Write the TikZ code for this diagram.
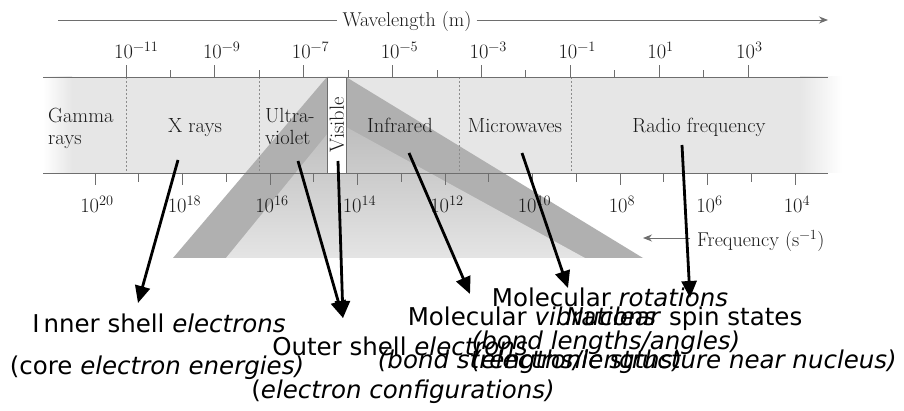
\documentclass[tikz,border=0pt]{standalone}
\usepackage{fontspec}
\newfontfamily\lblfont{DejaVu Sans}
\usetikzlibrary{arrows.meta}
\definecolor{bandgray}{HTML}{E6E6E6}
\definecolor{wedgedark}{HTML}{B0B0B0}
\definecolor{wedgelight}{HTML}{D9D9D9}
\definecolor{axisgray}{HTML}{6E6E6E}
\definecolor{inkgray}{HTML}{1A1A1A}
\begin{document}
\begin{tikzpicture}[x=1pt,y=-1pt,
  axisline/.style={draw=axisgray,line width=0.9pt},
  tickmark/.style={draw=axisgray,line width=0.9pt},
  divider/.style={draw=black!45,line width=0.7pt,dash pattern=on 2pt off 2pt},
  bandtext/.style={font=\fontsize{20.5}{16}\selectfont,text=inkgray,inner sep=0pt},
  ticklabel/.style={font=\fontsize{20.5}{24}\selectfont,text=inkgray,inner sep=0pt},
  axislabel/.style={font=\fontsize{20}{24}\selectfont,text=inkgray,inner sep=0pt},
  callout/.style={draw=black,line width=2.8pt,-{Triangle[length=17pt,width=15pt]}},
  sanslabel/.style={font=\lblfont\fontsize{24.5}{28}\selectfont,text=black,anchor=base,inner sep=0pt},
]
\useasboundingbox (0,0) rectangle (904,411);
\fill[white] (0,0) rectangle (904,411);

% spectrum band
\shade[left color=white,right color=bandgray] (43,77) rectangle (72,173);
\fill[bandgray] (72,77) rectangle (800,173);
\shade[left color=bandgray,right color=white] (800,77) rectangle (842,173);

% absorption wedges
\fill[wedgedark] (173,258) -- (327,77) -- (346,77) -- (643,258) -- cycle;
\shade[top color=wedgedark!70!wedgelight,bottom color=wedgelight!70!white] (226,258) -- (337,122) -- (585,258) -- cycle;

% region dividers
\draw[divider] (126,77) -- (126,173);
\draw[divider] (259,77) -- (259,173);
\draw[divider] (459,77) -- (459,173);
\draw[divider] (571,77) -- (571,173);

% visible strip
\filldraw[fill=white,draw=axisgray,line width=0.9pt] (327,77) rectangle (346,173);

% axes
\draw[axisline] (43,77) -- (828,77);
\draw[axisline] (43,173) -- (828,173);
\foreach \k in {0,...,14}{
  \pgfmathsetmacro\xx{126+44.43*\k}
  \ifodd\k \draw[tickmark] (\xx,77) -- (\xx,70); \else \draw[tickmark] (\xx,77) -- (\xx,65); \fi
}
\foreach \k in {0,...,16}{
  \pgfmathsetmacro\xx{95+43.75*\k}
  \ifodd\k \draw[tickmark] (\xx,173) -- (\xx,182); \else \draw[tickmark] (\xx,173) -- (\xx,185); \fi
}
\foreach \k/\e in {0/−11,2/−9,4/−7,6/−5,8/−3,10/−1,12/1,14/3}{
  \pgfmathsetmacro\xx{126+44.43*\k-12}
  \node[ticklabel,anchor=base west] (wl\k) at (\xx,59) {10\textsuperscript{\e}};
}
\foreach \k/\e in {0/20,2/18,4/16,6/14,8/12,10/10,12/8,14/6,16/4}{
  \pgfmathsetmacro\xx{95+43.75*\k+2}
  \node[ticklabel,anchor=base] (fq\k) at (\xx,213) {10\textsuperscript{\e}};
}

% axis titles
\coordinate (wlStart) at (58,20);
\coordinate (wlEnd) at (828,20);
\node[axislabel,anchor=base,inner xsep=5pt] (wltitle) at (407,27) {Wavelength (m)};
\draw[axisline] (wlStart) -- (wltitle.west |- wlStart);
\draw[axisline,-{Stealth[length=9pt,width=7pt]}] (wltitle.east |- wlEnd) -- (wlEnd);
\node[axislabel,anchor=base west] (fqtitle) at (697,247) {Frequency (s\textsuperscript{−1})};
\coordinate (fqStart) at (690,238);
\coordinate (fqTip) at (643,238);
\draw[axisline,-{Stealth[length=9pt,width=7pt]}] (fqStart) -- (fqTip);

% region names
\node[bandtext,anchor=base west] (gamma1) at (48,123) {Gamma};
\node[bandtext,anchor=base west] (gamma2) at (48,145) {rays};
\node[bandtext,anchor=base] (xray) at (195,133) {X rays};
\node[bandtext,anchor=base west] (uv1) at (265,123) {Ultra-};
\node[bandtext,anchor=base west] (uv2) at (265,145) {violet};
\node[bandtext,rotate=90] (vis) at (337,125) {Visible};
\node[bandtext,anchor=base] (ir) at (400,133) {Infrared};
\node[bandtext,anchor=base] (mw) at (515,133) {Microwaves};
\node[bandtext,anchor=base] (rf) at (699,133) {Radio frequency};

% callout labels
\node[sanslabel] (inner1) at (159,332) {I\kern4pt nner shell \textit{electrons}};
\node[sanslabel] (inner2) at (157,374) {(core \textit{electron energies)}};
\node[sanslabel] (outer1) at (400,355) {Outer shell \textit{electrons}};
\node[sanslabel] (outer2) at (403,398) {(\textit{electron configurations)}};
\node[sanslabel] (rot1) at (610,307) {Molecular \textit{rotations}};
\node[sanslabel] (rot2) at (606,349) {\textit{(bond lengths/angles)}};
\node[sanslabel] (vib1) at (532,325) {Molecular \textit{vibrations}};
\node[sanslabel] (vib2) at (530,368) {\textit{(bond strengths/lengths)}};
\node[sanslabel] (nuc1) at (684,325) {\textit{Nuclear} spin states};
\node[sanslabel] (nuc2) at (684,368) {\textit{(electronic structure near nucleus)}};

% callout arrows
\coordinate (aInner) at (178,160);
\coordinate (tInner) at (138,303);
\coordinate (aUV) at (298,161);
\coordinate (aVis) at (338,161);
\coordinate (tOuter) at (343,318);
\coordinate (aIR) at (409,153);
\coordinate (tIR) at (470,294);
\coordinate (aMW) at (522,153);
\coordinate (tMW) at (568,288);
\coordinate (aRF) at (682,145);
\coordinate (tRF) at (690,298);
\draw[callout] (aInner) -- (tInner);
\draw[callout] (aUV) -- (tOuter);
\draw[callout] (aVis) -- (tOuter);
\draw[callout] (aIR) -- (tIR);
\draw[callout] (aMW) -- (tMW);
\draw[callout] (aRF) -- (tRF);
\end{tikzpicture}
\end{document}
